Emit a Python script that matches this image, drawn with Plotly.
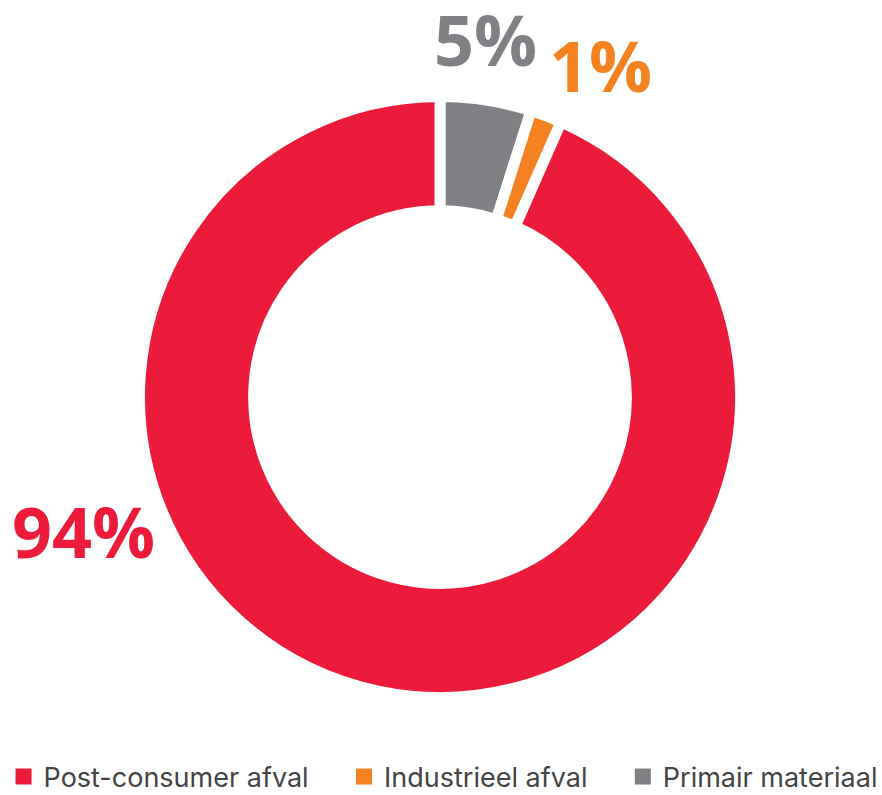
import plotly.graph_objects as go

labels = ["Post-consumer afval", "Industrieel afval", "Primair materiaal"]
values = [93.4, 1.7, 4.9]            # shares
pct_text = ["94%", "1%", "5%"]       # printed (rounded) labels
colors = ["#ED1B3B", "#F58220", "#808184"]
label_pos = [(83, 531), (600, 65), (485, 39)]  # pixel centres of the percentage labels

W, H = 882, 795
cx, cy, r_out = 440, 397, 300.5

fig = go.Figure()
# slices run clockwise from 12 o'clock: Primair, Industrieel, Post-consumer
fig.add_trace(go.Pie(
    labels=labels[::-1],
    values=values[::-1],
    sort=False,
    direction="clockwise",
    rotation=0,
    hole=0.62,
    marker=dict(colors=colors[::-1], line=dict(color="white", width=11)),
    textinfo="none",
    hoverinfo="skip",
    showlegend=False,
    domain=dict(x=[(cx - r_out) / W, (cx + r_out) / W],
                y=[1 - (cy + r_out) / H, 1 - (cy - r_out) / H]),
))

# legend entries (square swatches)
pad = "\u00a0" * 4
for i, (lab, c) in enumerate(zip(labels, colors)):
    fig.add_trace(go.Scatter(
        x=[None], y=[None], mode="markers", name=lab + (pad if i < len(labels) - 1 else ""),
        marker=dict(symbol="square", size=18, color=c), hoverinfo="skip",
    ))

for t, c, (px, py) in zip(pct_text, colors, label_pos):
    fig.add_annotation(
        text=t, x=px / W, y=1 - py / H, xref="paper", yref="paper",
        xanchor="center", yanchor="middle", showarrow=False,
        font=dict(family="Open Sans", size=70, color=c, weight="bold"),
    )

fig.update_layout(
    width=W, height=H,
    margin=dict(l=0, r=0, t=0, b=0, autoexpand=False),
    paper_bgcolor="white",
    plot_bgcolor="white",
    xaxis=dict(visible=False),
    yaxis=dict(visible=False),
    showlegend=True,
    legend=dict(
        orientation="h", x=0.004, xanchor="left",
        yref="container", y=1 - 777 / H, yanchor="middle",
        font=dict(family="Inter", size=27, color="#444444"),
        traceorder="normal", bgcolor="rgba(0,0,0,0)",
    ),
)

fig.write_html("out.html")
